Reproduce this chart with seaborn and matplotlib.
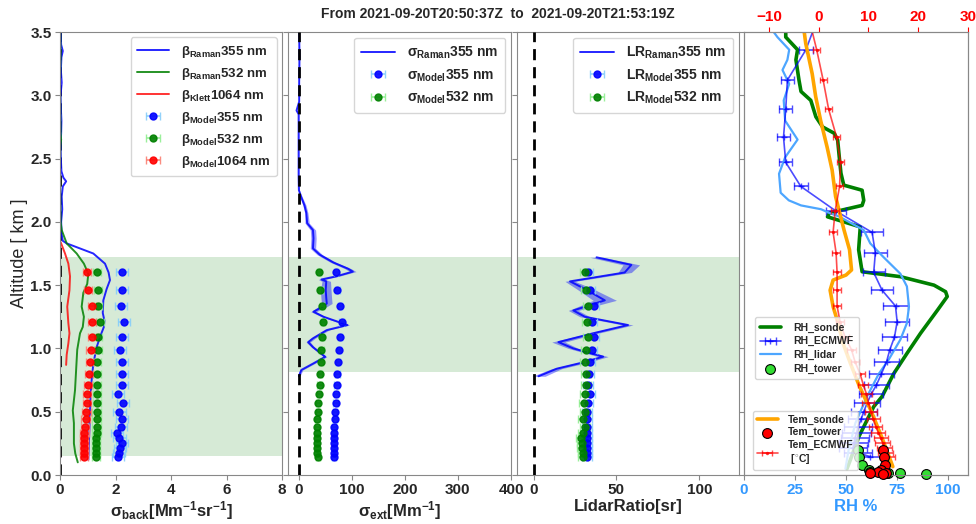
import numpy as np
import pandas as pd
import matplotlib
matplotlib.use("Agg")
import matplotlib.pyplot as plt
import seaborn as sns

# ------------------------------------------------------------------ data
title = "From 2021-09-20T20:50:37Z  to  2021-09-20T21:53:19Z"

# model / ECMWF levels (km)
model_alt = [0.145, 0.175, 0.21, 0.25, 0.29, 0.335, 0.38, 0.44, 0.50, 0.57,
             0.64, 0.71, 0.80, 0.895, 0.99, 1.09, 1.21, 1.335, 1.46, 1.60]

# panel 1 : backscatter
beta355_model = [2.1, 2.12, 2.16, 2.22, 2.14, 2.05, 2.19, 2.22, 2.14, 2.26,
                 2.1, 2.22, 2.22, 2.22, 2.15, 2.22, 2.3, 2.2, 2.22, 2.24]
beta532_model = [1.3, 1.3, 1.3, 1.3, 1.3, 1.32, 1.32, 1.32, 1.32, 1.33,
                 1.33, 1.33, 1.33, 1.34, 1.36, 1.37, 1.45, 1.38, 1.37, 1.34]
beta1064_model = [0.86, 0.86, 0.86, 0.86, 0.86, 0.88, 0.9, 0.92, 0.95, 0.96,
                  0.98, 1.0, 1.04, 1.07, 1.1, 1.16, 1.16, 1.16, 1.01, 0.96]
beta_model_err = [0.22, 0.15, 0.15]

b355_alt = [3.5, 3.4, 3.35, 3.3, 3.2, 3.1, 3.0, 2.9, 2.8, 2.7, 2.6, 2.5, 2.4,
            2.35, 2.32, 2.28, 2.2, 2.1, 2.0, 1.9, 1.85, 1.83, 1.79, 1.75,
            1.67, 1.60, 1.54, 1.47, 1.38, 1.28, 1.22, 1.17, 1.09, 1.01, 0.88,
            0.75, 0.62, 0.5, 0.36, 0.25, 0.12]
b355_val = [0.02, 0.04, 0.1, 0.05, 0.03, 0.06, 0.02, 0.03, 0.05, 0.04, 0.02,
            0.03, 0.05, 0.12, 0.22, 0.1, 0.06, 0.08, 0.04, 0.06, 0.1, 0.24,
            0.72, 1.2, 1.62, 1.75, 1.8, 1.68, 1.56, 1.54, 1.6, 1.58, 1.44,
            1.32, 1.2, 1.14, 1.1, 1.08, 1.06, 1.04, 1.02]

b532_alt = [3.5, 3.3, 3.1, 2.9, 2.7, 2.65, 2.6, 2.4, 2.2, 2.0, 1.935, 1.83,
            1.75, 1.67, 1.59, 1.51, 1.44, 1.33, 1.25, 1.17, 1.12, 0.99, 0.83,
            0.67, 0.51, 0.41, 0.25, 0.17, 0.10]
b532_val = [0.01, 0.02, 0.0, 0.01, 0.02, 0.04, 0.01, 0.0, 0.01, 0.02, 0.06,
            0.24, 0.6, 0.86, 1.02, 0.98, 0.84, 0.78, 0.86, 0.82, 0.72, 0.62,
            0.58, 0.54, 0.46, 0.5, 0.5, 0.55, 0.64]

b1064_alt = [1.85, 1.83, 1.75, 1.67, 1.57, 1.46, 1.33, 1.2, 1.12, 1.04, 0.95, 0.87]
b1064_val = [0.0, 0.04, 0.18, 0.3, 0.36, 0.34, 0.26, 0.3, 0.34, 0.3, 0.24, 0.22]

# panel 2 : extinction
ext355_model = [67, 66, 66, 66, 66, 67, 67, 68, 68, 69.5,
                70, 71.5, 73, 74.6, 76, 78, 80.8, 78, 73, 70]
ext532_model = [36, 35, 34, 34, 35, 35, 35, 35.5, 37, 37,
                39, 39.5, 40.5, 41.7, 43, 44.5, 46, 44, 41, 38]
ext_model_err = [4, 4]

ext_alt = [3.5, 3.3, 3.1, 2.95, 2.88, 2.85, 2.35, 2.25, 2.2, 2.13, 2.07, 1.99,
           1.935, 1.87, 1.79, 1.74, 1.68, 1.63, 1.607, 1.57, 1.545, 1.53, 1.46,
           1.40, 1.355, 1.33, 1.29, 1.25, 1.185, 1.145, 1.08, 1.05, 1.01,
           0.934, 0.88, 0.83, 0.78]
ext_val = [1, 1.5, 1, 1, -4, 0, 0, 0.5, 4.5, 11, 14.5, 16, 27, 28, 27, 40, 65,
           93, 102, 71, 43, 52, 51, 52, 53, 45, 28, 47, 92, 53, 27, 18, 27, 50,
           27, 5, 0.5]
ext_err = [0.5, 0.5, 0.5, 0.5, 0.5, 0.5, 0.5, 1, 2, 3, 3, 4, 5, 5, 5, 5, 5, 6,
           6, 5, 6, 8, 10, 10, 10, 8, 5, 4, 4, 4, 4, 4, 3, 3, 3, 3, 2]

# panel 3 : lidar ratio
lr355_model = [32.5, 32.5, 32.5, 32.2, 32.5, 32, 32.2, 32.2, 32.5, 32.7,
               33.9, 32.9, 33.3, 33.9, 35, 36.4, 35, 36.4, 34, 33]
lr532_model = [29.6, 29.6, 29, 29, 28.4, 29.6, 31, 29.6, 31, 30.4,
               31, 31.9, 31.6, 31, 31.9, 33, 32.3, 33, 31.6, 31]
lr_model_err = [3, 3]

lr_alt = [1.72, 1.66, 1.60, 1.53, 1.47, 1.38, 1.30, 1.25, 1.185, 1.12, 1.05,
          1.0, 0.935, 0.89, 0.84, 0.78]
lr_val = [38, 59, 55, 22, 31, 43, 24, 31, 57, 36, 15, 24, 42, 30, 14, 3]
lr_err = [4, 5, 4, 3, 5, 7, 3, 3, 3, 3, 4, 3, 3, 3, 3, 4]

# panel 4 : RH and temperature
rh_sonde_alt = [3.52, 3.46, 3.36, 3.28, 3.12, 3.03, 2.96, 2.83, 2.75, 2.70,
                2.645, 2.51, 2.385, 2.29, 2.25, 2.17, 2.13, 2.07, 2.04, 1.96,
                1.78, 1.606, 1.567, 1.50, 1.448, 1.41, 1.30, 1.12, 0.96, 0.80,
                0.62, 0.54, 0.30, 0.118, 0.05]
rh_sonde = [20.5, 20.5, 26.3, 25.5, 27, 28, 32.8, 35.3, 38.6, 44.3, 46, 46.8,
            47.6, 49, 58, 58.8, 58, 41.9, 41, 57.1, 56.3, 58, 76.8, 93.3, 99,
            99.8, 94.9, 86.7, 80, 73.5, 67.8, 63.7, 56.3, 52.2, 50.6]

rh_lidar_alt = [3.515, 3.46, 3.36, 3.28, 3.20, 3.09, 2.96, 2.80, 2.65, 2.51,
                2.38, 2.23, 2.17, 2.13, 2.10, 2.07, 2.04, 1.935, 1.83, 1.72,
                1.59, 1.49, 1.33, 1.20, 1.07, 0.91, 0.80, 0.62, 0.41, 0.20, 0.05]
rh_lidar = [13.9, 16.4, 22.2, 21.3, 18.9, 22.2, 19.5, 20.2, 26.3, 20.2, 17.2,
            18, 22, 28, 37.8, 42, 47, 58.8, 62, 68.6, 76.8, 80, 81, 80, 76.8,
            71, 66.2, 60.4, 54.7, 51.4, 49.8]

ecmwf_alt = model_alt + [1.756, 1.917, 2.085, 2.28, 2.47, 2.67, 2.89, 3.12, 3.36, 3.6]
rh_ecmwf = [62, 56, 53.5, 53.8, 54.5, 55.3, 56, 57.5, 58.8, 60.5,
            62.5, 65, 67.5, 70, 71.6, 73.9, 75.2, 74.4, 67.8, 63.7,
            64.5, 62.9, 45.2, 27.9, 20.5, 19.4, 20.5, 21.3, 30.4, 36]
rh_ecmwf_err = [7, 7, 7, 7, 7, 7, 7, 6.5, 6.5, 6.5,
                6, 6, 6, 6, 6, 6, 6, 6, 5.5, 5.5,
                5.5, 5.5, 5, 3.3, 3.3, 3.3, 3.3, 3.3, 3.3, 3.3]
tem_ecmwf = [13.8, 13.5, 13.2, 12.9, 12.5, 12.0, 11.5, 11.0, 10.5, 10.0,
             9.6, 9.0, 8.3, 7.3, 6.6, 5.3, 4.3, 3.7, 3.7, 3.7,
             3.5, 2.9, 3.3, 4.2, 4.4, 3.6, 2.0, 0.9, -0.4, -1.9]
tem_ecmwf_err = [1.5, 1.5, 1.5, 1.5, 1.4, 1.4, 1.3, 1.3, 1.2, 1.2,
                 1.1, 1.0, 1.0, 0.9, 0.9, 0.8, 0.8, 0.8, 0.8, 0.8,
                 0.8, 0.8, 0.8, 0.7, 0.7, 0.7, 0.7, 0.7, 0.7, 0.7]

tem_sonde_alt = [3.515, 3.41, 3.17, 2.99, 2.80, 2.59, 2.41, 2.20, 2.09, 1.935,
                 1.78, 1.62, 1.58, 1.54, 1.46, 1.33, 1.20, 1.04, 0.88, 0.70,
                 0.59, 0.51, 0.276, 0.066]
tem_sonde = [-2.95, -2.6, -1.3, -0.6, 0.4, 1.7, 2.7, 3.4, 4.1, 5.1,
             6.2, 6.6, 5.5, 2.9, 2.3, 2.9, 3.9, 4.9, 6.4, 8.2,
             9.5, 10.5, 12.9, 14.9]

tower_alt = [0.20, 0.14, 0.08, 0.04, 0.02, 0.015, 0.012, 0.008]
rh_tower = [55.8, 56.5, 58, 61.2, 62, 70.5, 76.4, 89.2]
tem_tower = [12.9, 13.1, 13.4, 12.6, 11.9, 13.6, 10.4, 13.0]

# ------------------------------------------------------------------ style
sns.set_style("ticks")
plt.rcParams["font.family"] = ["Liberation Sans", "DejaVu Sans"]
plt.rcParams["mathtext.fontset"] = "custom"
plt.rcParams["mathtext.rm"] = "Liberation Sans:bold"
plt.rcParams["mathtext.it"] = "Liberation Sans:bold"
plt.rcParams["mathtext.bf"] = "Liberation Sans:bold"
plt.rcParams["axes.edgecolor"] = "#888888"

fig = plt.figure(figsize=(9.76, 5.24), dpi=100)
bottom, height = 0.0935, 0.8454
ax1 = fig.add_axes([0.0615, bottom, 0.2275, height])
ax2 = fig.add_axes([0.2951, bottom, 0.2285, height], sharey=ax1)
ax3 = fig.add_axes([0.5297, bottom, 0.2275, height], sharey=ax1)
ax4 = fig.add_axes([0.7623, bottom, 0.2295, height], sharey=ax1)

band_color = "green"
for ax in (ax1, ax2, ax3, ax4):
    ax.tick_params(direction="out", length=3.5, color="#888888", labelsize=11, pad=2.5)


def prof(ax, x, y, **kw):
    sns.lineplot(x=x, y=y, orient="y", sort=False, estimator=None, ax=ax, **kw)


def model(ax, x, y, err, color, ecolor, label):
    ax.errorbar(x, y, xerr=err, fmt="o", color=color, ms=5, ecolor=ecolor,
                elinewidth=1.2, capsize=3, alpha=0.9, label=label, zorder=4)


leg_kw = dict(loc="upper right", borderpad=0.5, labelspacing=0.45,
              handlelength=2.4, handletextpad=0.9, borderaxespad=0.4)

# ---------------- panel 1
ax1.axhspan(0.15, 1.72, color=band_color, alpha=0.16, lw=0)
ax1.axvline(0, color="k", ls="--", lw=2, dashes=(4, 2.5))
prof(ax1, b355_val, b355_alt, color="blue", lw=1.4, alpha=0.85,
     label=r"β$_{Raman}$355 nm")
prof(ax1, b532_val, b532_alt, color="green", lw=1.4, alpha=0.85,
     label=r"β$_{Raman}$532 nm")
prof(ax1, b1064_val, b1064_alt, color="red", lw=1.4, alpha=0.8,
     label=r"β$_{Klett}$1064 nm")
model(ax1, beta355_model, model_alt, beta_model_err[0], "blue", "lightskyblue",
      r"β$_{Model}$355 nm")
model(ax1, beta532_model, model_alt, beta_model_err[1], "green", "lightgreen",
      r"β$_{Model}$532 nm")
model(ax1, beta1064_model, model_alt, beta_model_err[2], "red", "salmon",
      r"β$_{Model}$1064 nm")
h, l = ax1.get_legend_handles_labels()
ax1.legend(h, l, prop={"weight": "bold", "size": 9.5}, **leg_kw)
ax1.set_xlim(0, 8)
ax1.set_xticks([0, 2, 4, 6, 8])
ax1.set_ylim(0, 3.5)
ax1.set_yticks(np.arange(0, 3.51, 0.5))
ax1.set_yticklabels([f"{v:.1f}" for v in np.arange(0, 3.51, 0.5)], fontweight="bold")
ax1.set_ylabel("Altitude [ km ]", fontsize=13)
ax1.yaxis.set_label_coords(-0.145, 0.5)
ax1.set_xlabel(r"σ$_{back}$[Mm$^{-1}$sr$^{-1}$]", fontsize=12, fontweight="bold",
               labelpad=1)

# ---------------- panel 2
ax2.axhspan(0.81, 1.72, color=band_color, alpha=0.16, lw=0)
ax2.axvline(0, color="k", ls="--", lw=2, dashes=(4, 2.5), zorder=5)
ax2.fill_betweenx(ext_alt, np.array(ext_val) - np.array(ext_err),
                  np.array(ext_val) + np.array(ext_err), color="blue", alpha=0.4, lw=0)
prof(ax2, ext_val, ext_alt, color="blue", lw=1.4, alpha=0.85,
     label=r"σ$_{Raman}$355 nm")
model(ax2, ext355_model, model_alt, ext_model_err[0], "blue", "lightskyblue",
      r"σ$_{Model}$355 nm")
model(ax2, ext532_model, model_alt, ext_model_err[1], "green", "lightgreen",
      r"σ$_{Model}$532 nm")
h, l = ax2.get_legend_handles_labels()
ax2.legend(h, l, prop={"weight": "bold", "size": 10}, **leg_kw)
ax2.set_xlim(-20, 400)
ax2.set_xticks([0, 100, 200, 300, 400])
ax2.set_xlabel(r"σ$_{ext}$[Mm$^{-1}$]", fontsize=12, fontweight="bold", labelpad=1)
ax2.tick_params(labelleft=False)

# ---------------- panel 3
ax3.axhspan(0.81, 1.72, color=band_color, alpha=0.16, lw=0)
ax3.axvline(0, color="k", ls="--", lw=2, dashes=(4, 2.5), zorder=5)
ax3.fill_betweenx(lr_alt, np.array(lr_val) - np.array(lr_err),
                  np.array(lr_val) + np.array(lr_err), color="blue", alpha=0.4, lw=0)
prof(ax3, lr_val, lr_alt, color="blue", lw=1.4, alpha=0.85,
     label=r"LR$_{Raman}$355 nm")
model(ax3, lr355_model, model_alt, lr_model_err[0], "blue", "lightskyblue",
      r"LR$_{Model}$355 nm")
model(ax3, lr532_model, model_alt, lr_model_err[1], "green", "lightgreen",
      r"LR$_{Model}$532 nm")
h, l = ax3.get_legend_handles_labels()
ax3.legend(h, l, prop={"weight": "bold", "size": 10}, **leg_kw)
ax3.set_xlim(-10, 124)
ax3.set_xticks([0, 50, 100])
ax3.set_xlabel("LidarRatio[sr]", fontsize=12, fontweight="bold", labelpad=1)
ax3.tick_params(labelleft=False)

# ---------------- panel 4
rh_color = "#3399ff"
prof(ax4, rh_sonde, rh_sonde_alt, color="green", lw=2.6, label="RH_sonde")
ax4.errorbar(rh_ecmwf, ecmwf_alt, xerr=rh_ecmwf_err, color="blue", alpha=0.7,
             lw=1.2, elinewidth=1.2, capsize=3, marker="+", ms=4, label="RH_ECMWF")
prof(ax4, rh_lidar, rh_lidar_alt, color="#4da6ff", lw=1.6, label="RH_lidar")
ax4.scatter(rh_tower, tower_alt, color="#33dd33", edgecolor="k", s=50, lw=0.8,
            zorder=6, clip_on=False, label="RH_tower")
ax4.set_xlim(0, 110)
ax4.set_xticks([0, 25, 50, 75, 100])
ax4.tick_params(labelleft=False)
ax4.tick_params(axis="x", labelcolor=rh_color)
ax4.set_xlabel("RH %", fontsize=12, fontweight="bold", color=rh_color, labelpad=1)
if ax4.get_legend() is not None:
    ax4.get_legend().remove()
h_rh, l_rh = ax4.get_legend_handles_labels()
order = [l_rh.index(n) for n in ["RH_sonde", "RH_ECMWF", "RH_lidar", "RH_tower"]]
h_rh = [h_rh[i] for i in order]
l_rh = [l_rh[i] for i in order]

ax4t = ax4.twiny()
prof(ax4t, tem_sonde, tem_sonde_alt, color="orange", lw=2.6, label="Tem_sonde")
ax4t.scatter(tem_tower, tower_alt, color="red", edgecolor="k", s=50, lw=0.8,
             zorder=6, clip_on=False, label="Tem_tower")
ax4t.errorbar(tem_ecmwf, ecmwf_alt, xerr=tem_ecmwf_err, color="red", alpha=0.7,
              lw=1.2, elinewidth=1.2, capsize=2, marker=".", ms=3,
              label="Tem_ECMWF\n [$^{\\circ}$C]")
ax4t.set_xlim(-15, 30)
ax4t.set_xticks([-10, 0, 10, 20, 30])
ax4t.tick_params(direction="out", length=3.5, color="red", labelcolor="red",
                 labelsize=11, pad=2.5)
ax4t.set_ylim(0, 3.5)
if ax4t.get_legend() is not None:
    ax4t.get_legend().remove()
h_t, l_t = ax4t.get_legend_handles_labels()
leg_rh = ax4t.legend(h_rh, l_rh, loc="lower left", bbox_to_anchor=(0.025, 0.205),
                     prop={"weight": "bold", "size": 7.5}, labelspacing=0.35,
                     handlelength=2.0, borderpad=0.5, handletextpad=1.2)
ax4t.add_artist(leg_rh)
ax4t.legend(h_t, l_t, loc="lower left", bbox_to_anchor=(0.015, 0.0),
            prop={"weight": "bold", "size": 7.5}, labelspacing=0.2,
            handlelength=2.0, borderpad=0.4, handletextpad=1.0)

for ax in (ax1, ax2, ax3, ax4, ax4t):
    for lab in ax.get_xticklabels():
        lab.set_fontweight("bold")
for ax in (ax1, ax2, ax3, ax4):
    ax.set_ylim(0, 3.5)

fig.text(0.51, 0.973, title, ha="center", va="center", fontsize=10, fontweight="bold")
fig.savefig("out.png", dpi=100)
